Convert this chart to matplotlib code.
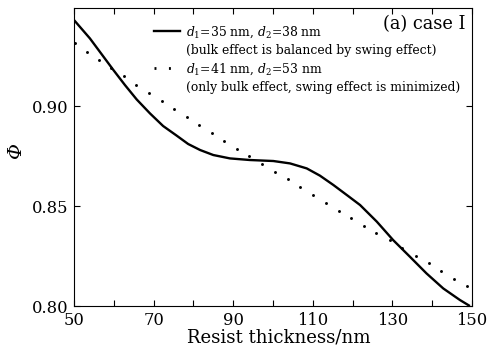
import numpy as np
import matplotlib
matplotlib.use("Agg")
import matplotlib.pyplot as plt
from matplotlib.lines import Line2D

plt.rcParams['font.family'] = ['DejaVu Serif']
plt.rcParams['mathtext.fontset'] = 'dejavuserif'

# Solid curve: d1=35 nm, d2=38 nm
x_solid = [50, 54.0, 57.4, 59.9, 62.8, 65.75, 69.1, 72.4, 75.8, 78.7, 81.7, 85.0, 89.2,
           94.2, 100.1, 104.3, 108.5, 111.8, 115.2, 118.9, 121.9, 126.1, 130.2, 134.4,
           138.6, 142.8, 147.0, 149.5]
y_solid = [0.943, 0.9338, 0.9247, 0.918, 0.9105, 0.9033, 0.8963, 0.8900, 0.8852, 0.8810,
           0.8780, 0.8755, 0.8738, 0.873, 0.8725, 0.8713, 0.8688, 0.8652, 0.8605, 0.855,
           0.8505, 0.8422, 0.833, 0.8247, 0.8163, 0.8088, 0.803, 0.800]

# Dotted curve: d1=41 nm, d2=53 nm
x_dot = [50.25, 53.3, 56.3, 59.4, 62.6, 65.7, 68.8, 72.0, 75.1, 78.3, 81.5, 84.6, 87.8,
         90.9, 94.0, 97.3, 100.5, 103.8, 106.9, 110.1, 113.3, 116.5, 119.7, 122.9, 126.0,
         129.3, 132.5, 135.9, 139.1, 142.3, 145.5, 148.7]
y_dot = [0.9313, 0.927, 0.923, 0.919, 0.915, 0.9107, 0.9065, 0.9027, 0.8985, 0.8943,
         0.8903, 0.8865, 0.8827, 0.8785, 0.875, 0.871, 0.867, 0.8635, 0.8593, 0.8555,
         0.8515, 0.8477, 0.8442, 0.8402, 0.8365, 0.833, 0.8288, 0.825, 0.8213, 0.8175,
         0.8137, 0.810]

xticks_major = [50, 70, 90, 110, 130, 150]
xticks_minor = [60, 80, 100, 120, 140]
yticks = [0.80, 0.85, 0.90]
ytick_labels = ['0.80', '0.85', '0.90']

label1a = '$d_1$=35 nm, $d_2$=38 nm'
label1b = '(bulk effect is balanced by swing effect)'
label2a = '$d_1$=41 nm, $d_2$=53 nm'
label2b = '(only bulk effect, swing effect is minimized)'

fig = plt.figure(figsize=(4.9, 3.56), dpi=100)
ax = fig.add_axes([0.151, 0.1404, 0.812, 0.8371])

ax.plot(x_solid, y_solid, color='black', lw=1.7, solid_capstyle='butt',
        solid_joinstyle='round')
ax.plot(x_dot, y_dot, linestyle='none', marker='o', markersize=2.1,
        color='black', markeredgewidth=0)

ax.set_xlim(50, 150)
ax.set_ylim(0.80, 0.949)
ax.set_xticks(xticks_major)
ax.set_xticks(xticks_minor, minor=True)
ax.set_yticks(yticks)
ax.set_yticklabels(ytick_labels)
ax.tick_params(which='both', direction='in', top=True, right=True, length=4,
               width=0.8, labelsize=11.8, pad=4)
ax.tick_params(axis='x', pad=4.5)
for s in ax.spines.values():
    s.set_linewidth(0.8)

ax.set_xlabel('Resist thickness/nm', fontsize=13.1)
ax.xaxis.set_label_coords(0.514, -0.075)
ax.set_ylabel('Φ', fontsize=14, style='italic')
ax.yaxis.set_label_coords(-0.123, 0.52)

handles = [Line2D([], [], color='black', lw=1.7),
           Line2D([], [], linestyle='none'),
           Line2D([], [], linestyle=':', color='black', lw=2.0, dashes=(0.7, 4.5)),
           Line2D([], [], linestyle='none')]
labels = [label1a, label1b, label2a, label2b]
ax.legend(handles, labels, loc='upper left', bbox_to_anchor=(0.202, 0.945),
          frameon=False, fontsize=8.95, handlelength=2.1, handletextpad=0.45,
          labelspacing=0.33, borderaxespad=0, borderpad=0)

ax.text(0.983, 0.975, '(a) case I', transform=ax.transAxes, ha='right', va='top',
        fontsize=12.8)

fig.savefig('out.png', dpi=100)
